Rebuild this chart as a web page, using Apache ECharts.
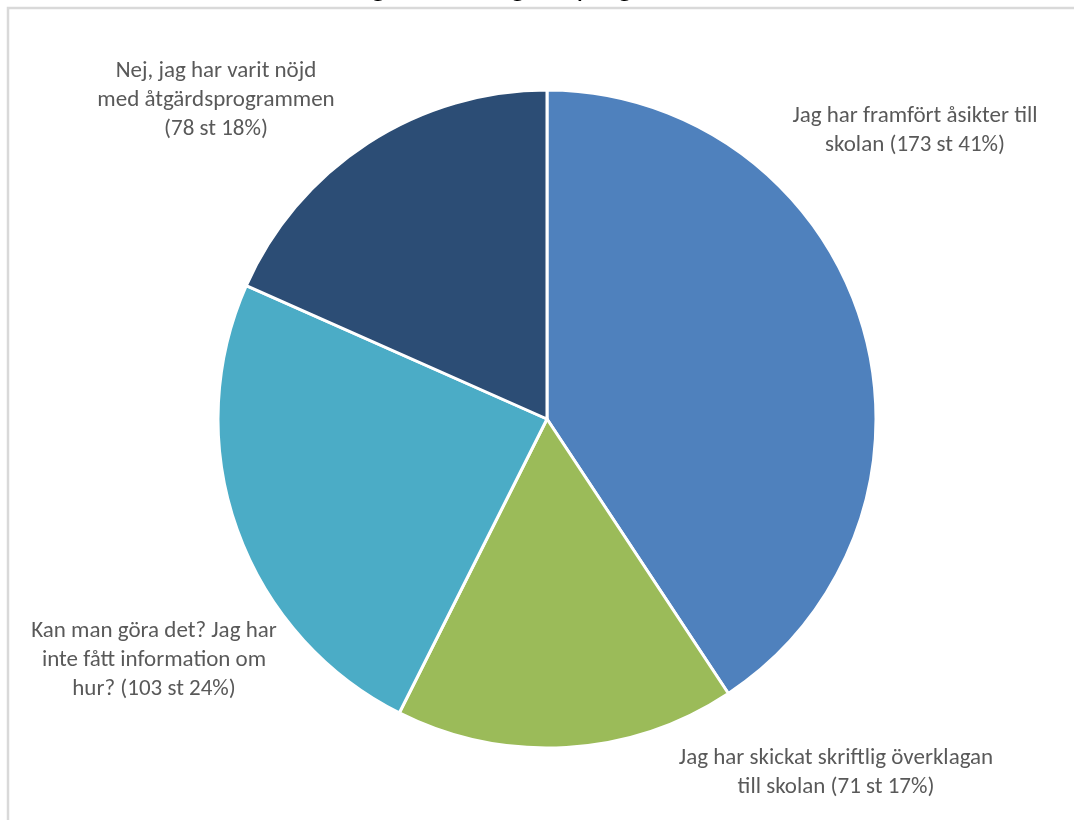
<!DOCTYPE html>
<html>
<head>
<meta charset="utf-8">
<script src="https://cdn.jsdelivr.net/npm/echarts@6/dist/echarts.min.js"></script>
<style>
html,body{margin:0;padding:0;background:#fff;}
#chart{width:1074px;height:820px;}
</style>
</head>
<body>
<div id="chart"></div>
<script>
// ---- data ----
var titleText = 'Överklagande av åtgärdsprogram';
var categories = [
  'Jag har framfört åsikter till skolan',
  'Jag har skickat skriftlig överklagan till skolan',
  'Kan man göra det? Jag har inte fått information om hur?',
  'Nej, jag har varit nöjd med åtgärdsprogrammen'
];
var counts = [173, 71, 103, 78];
var percents = [41, 17, 24, 18];
var labelLines = [
  ['Jag har framfört åsikter till', 'skolan'],
  ['Jag har skickat skriftlig överklagan', 'till skolan'],
  ['Kan man göra det? Jag har', 'inte fått information om', 'hur?'],
  ['Nej, jag har varit nöjd', 'med åtgärdsprogrammen', '']
];
var colors = ['#4F81BD', '#9BBB59', '#4BACC6', '#2C4D75'];

// label anchor positions (centres of label blocks)
var labelPos = [[915, 131], [836, 773], [154, 660], [216, 100]];

var chart = echarts.init(document.getElementById('chart'), null, {renderer: 'canvas'});

var data = categories.map(function (c, i) {
  return {name: c, value: counts[i], itemStyle: {color: colors[i]}};
});

function fmt(p) {
  var i = p.dataIndex;
  var lines = labelLines[i].slice();
  var suffix = '(' + counts[i] + ' st ' + percents[i] + '%)';
  var last = lines[lines.length - 1];
  lines[lines.length - 1] = last ? last + ' ' + suffix : suffix;
  return lines.join('\n');
}

chart.setOption({
  backgroundColor: '#ffffff',
  animation: false,
  graphic: [
    {
      type: 'rect',
      shape: {x: 8, y: 8, width: 1200, height: 1000},
      style: {fill: 'none', stroke: '#d9d9d9', lineWidth: 2.5},
      silent: true, z: 0
    },
    {
      type: 'text',
      x: 278, y: -27,
      style: {text: titleText, fill: '#000000', font: '30px "Carlito", "Lato", sans-serif'},
      silent: true, z: 1
    }
  ],
  series: [{
    type: 'pie',
    center: [547, 419],
    radius: [0, 329],
    startAngle: 90,
    clockwise: true,
    data: data,
    itemStyle: {borderColor: '#ffffff', borderWidth: 3},
    label: {
      show: true,
      position: 'outside',
      alignTo: 'none',
      overflow: 'none',
      formatter: fmt,
      color: '#595959',
      fontFamily: 'Carlito, Lato, sans-serif',
      fontSize: 23,
      lineHeight: 29,
      align: 'center'
    },
    labelLine: {show: false},
    labelLayout: function (params) {
      var p = labelPos[params.dataIndex];
      return {x: p[0], y: p[1], align: 'center', verticalAlign: 'middle'};
    },
    emphasis: {disabled: true}
  }]
});
</script>
</body>
</html>
